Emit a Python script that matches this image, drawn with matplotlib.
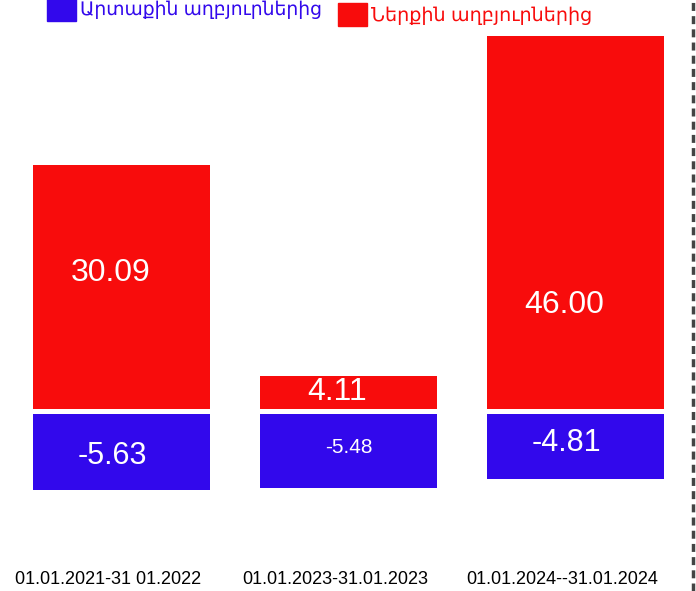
import matplotlib
matplotlib.use("Agg")
import matplotlib.pyplot as plt
from matplotlib.patches import Rectangle
from matplotlib.lines import Line2D

# data
periods = ["01.01.2021-31 01.2022", "01.01.2023-31.01.2023", "01.01.2024--31.01.2024"]
internal = [30.09, 4.11, 46.00]   # Ներքին աղբյուրներից
external = [-5.63, -5.48, -4.81]  # Արտաքին աղբյուրներից
internal_labels = ["30.09", "4.11", "46.00"]
external_labels = ["-5.63", "-5.48", "-4.81"]
legend_labels = ["Արտաքին աղբյուրներից", "Ներքին աղբյուրներից"]

red = "#f80c0c"
blue = "#3208ec"
fonts = ["Liberation Sans", "DejaVu Sans"]
plt.rcParams["font.family"] = fonts

W, H = 696, 591
fig = plt.figure(figsize=(W / 100, H / 100), dpi=100)

x = [0, 1, 2]
xlim = (-0.537, 2.529)

# positive part (upper axes, zero at pixel 409)
ax_pos = fig.add_axes([0, (H - 409) / H, 1, 409 / H])
ax_pos.bar(x, internal, width=0.78, color=red)
ax_pos.set_xlim(*xlim)
ax_pos.set_ylim(0, 409 / 8.1)
ax_pos.axis("off")

# negative part (lower axes, zero at pixel 414)
ax_neg = fig.add_axes([0, 0, 1, (H - 414) / H])
ax_neg.bar(x, external, width=0.78, color=blue)
ax_neg.set_xlim(*xlim)
ax_neg.set_ylim(-(H - 414) / 13.5, 0)
ax_neg.axis("off")

# value labels
pos_frac = [0.56, 0.5, 0.28]
pos_size = [23, 23, 23]
for i, v in enumerate(internal):
    ax_pos.text(x[i] - 0.05, v * pos_frac[i], internal_labels[i], color="white",
                fontsize=pos_size[i], ha="center", va="center")
neg_frac = [0.55, 0.45, 0.45]
neg_size = [22, 15, 22]
neg_dx = [-0.04, 0.0, -0.04]
for i, v in enumerate(external):
    ax_neg.text(x[i] + neg_dx[i], v * neg_frac[i], external_labels[i], color="white",
                fontsize=neg_size[i], ha="center", va="center")

# category labels
for i, p in enumerate(periods):
    ax_neg.text(x[i] - 0.06, -(579 - 414) / 13.5, p, fontsize=13,
                ha="center", va="center", color="black")

# legend
fig.patches.append(Rectangle((47 / W, 1 - 21 / H), 29 / W, 24 / H,
                             transform=fig.transFigure, color=blue))
fig.text(80 / W, 1 - 10 / H, legend_labels[0], color=blue, fontsize=13.5,
         ha="left", va="center")
fig.patches.append(Rectangle((338 / W, 1 - 26 / H), 29 / W, 23 / H,
                             transform=fig.transFigure, color=red))
fig.text(371 / W, 1 - 16 / H, legend_labels[1], color=red, fontsize=13.8,
         ha="left", va="center")

# dashed border at the right
fig.lines.append(Line2D([693 / W, 693 / W], [0, 1], transform=fig.transFigure,
                        color="#444444", linewidth=2.5, linestyle=(0, (2.3, 1.5))))

fig.savefig("out.png", dpi=100)
